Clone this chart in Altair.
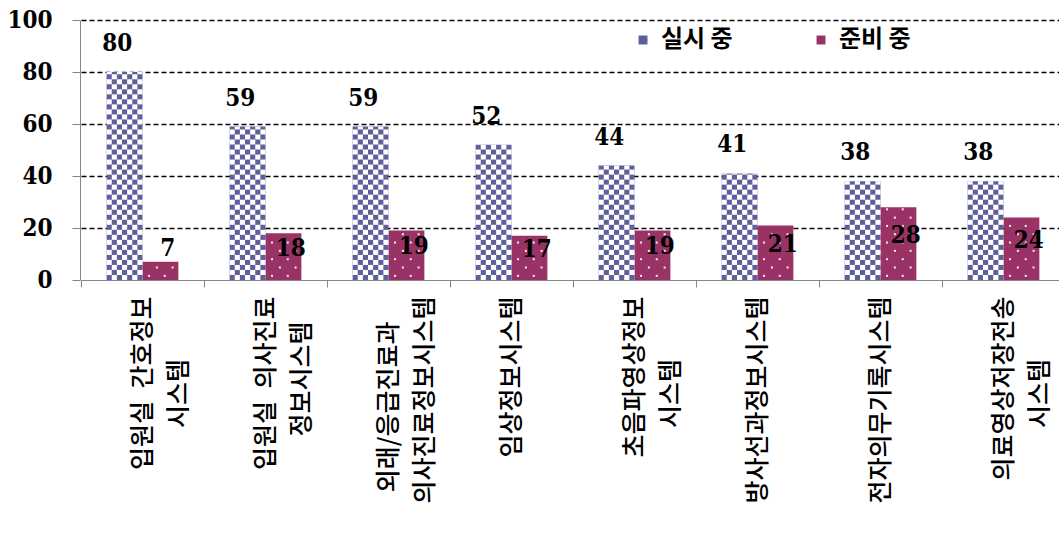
import math
import altair as alt
import pandas as pd

# ---- data ----
ZW = "\u200b"
categories = [
    "입원실\u2002간호정보\n시스템\u3000\u3000\u2002" + ZW,
    "입원실\u2002의사진료\n정보시스템\u3000" + ZW,
    "외래/응급진료과\u3000" + ZW + "\n의사진료정보시스템",
    "임상정보시스템",
    "초음파영상정보\n시스템\u3000\u3000\u2002" + ZW,
    "방사선과정보시스템",
    "전자의무기록시스템",
    "의료영상저장전송\n시스템\u3000\u3000\u2002" + ZW,
]
series = ["실시 중", "준비 중"]
active = [80, 59, 59, 52, 44, 41, 38, 38]     # 실시 중
planned = [7, 18, 19, 17, 19, 21, 28, 24]     # 준비 중
colors = ["#5f5f9c", "#993366"]

# ---- tables built from the arrays ----
rows = []
for c, a, p in zip(categories, active, planned):
    rows.append({"cat": c, "series": series[0], "value": a})
    rows.append({"cat": c, "series": series[1], "value": p})
df = pd.DataFrame(rows)

# checkerboard overlay (light squares) for 실시 중 bars
cell_h = 1.93
slots24 = [f"k{j:02d}" for j in range(24)]
cells = []
for c, v in zip(categories, active):
    n = math.ceil(v / cell_h)
    for r in range(n):
        y0 = r * cell_h
        y1 = min((r + 1) * cell_h, v)
        for col in range(7):
            if (r + col) % 2 == 1:
                cells.append({"cat": c, "slot": slots24[5 + col], "y0": y0, "y1": y1})
df_cells = pd.DataFrame(cells)

# dotted pattern for 준비 중 bars
slots48 = [f"d{j:02d}" for j in range(48)]
dots = []
for c, v in zip(categories, planned):
    k = 0
    while (k + 0.5) * 3.2 < v - 0.6:
        yk = (k + 0.5) * 3.2
        for s in ([26, 32] if k % 2 == 0 else [29, 35]):
            dots.append({"cat": c, "slot": slots48[s], "y": yk})
        k += 1
df_dots = pd.DataFrame(dots)

# ---- shared encodings ----
x_axis = alt.Axis(
    title=None, labelAngle=270, labelAlign="right", labelBaseline="middle",
    labelFont="Noto Sans CJK KR", labelFontSize=25, labelFontWeight=500, labelLineHeight=36,
    labelColor="black", labelPadding=9, labelLimit=400, labelOverlap=False,
    labelExpr="split(datum.label, '\\n')", bandPosition=0,
    ticks=True, tickSize=7, tickColor="#868686", domainColor="#868686",
    domainWidth=1, grid=False,
)
X = alt.X("cat:N", sort=categories,
          scale=alt.Scale(domain=categories, range=[1, 985], paddingInner=0, paddingOuter=0),
          axis=x_axis)

y_axis = alt.Axis(
    title=None, values=[0, 20, 40, 60, 80, 100], grid=True,
    gridColor={"condition": {"test": "datum.value === 0", "value": "transparent"}, "value": "black"},
    gridDash=[5, 3], gridWidth=1.3,
    tickColor="#868686", tickSize=8, domainColor="#868686",
    labelFont="DejaVu Serif Condensed", labelFontWeight="bold", labelFontSize=24,
    labelColor="black", labelPadding=20,
)
yscale = alt.Scale(domain=[0, 100], nice=False)

xoff_series = alt.XOffset("series:N", scale=alt.Scale(domain=series, paddingInner=0, paddingOuter=5 / 7))

bars = alt.Chart(df).mark_bar().encode(
    x=X,
    xOffset=xoff_series,
    y=alt.Y("value:Q", scale=yscale, axis=y_axis, title=None),
    color=alt.Color(
        "series:N",
        scale=alt.Scale(domain=series, range=colors),
        legend=alt.Legend(
            orient="none", legendX=551, legendY=8, direction="horizontal", title=None,
            symbolType="square", symbolSize=80, symbolStrokeWidth=0,
            labelFont="Noto Sans CJK KR", labelFontSize=24, labelFontWeight="bold",
            labelColor="black", labelOffset=6, columnPadding=76, padding=0,
        ),
    ),
)

checker = alt.Chart(df_cells).mark_bar(color="white").encode(
    x=X,
    xOffset=alt.XOffset("slot:N", scale=alt.Scale(domain=slots24, paddingInner=0, paddingOuter=0)),
    y=alt.Y("y0:Q", scale=yscale, axis=y_axis, title=None),
    y2="y1:Q",
)

dotted = alt.Chart(df_dots).mark_square(size=4, color="white", opacity=0.9, filled=True).encode(
    x=X,
    xOffset=alt.XOffset("slot:N", scale=alt.Scale(domain=slots48, paddingInner=0, paddingOuter=0)),
    y=alt.Y("y:Q", scale=yscale, axis=y_axis, title=None),
)

text_active = alt.Chart(df).transform_filter(
    alt.datum.series == series[0]
).mark_text(font="DejaVu Serif Condensed", fontSize=24, fontWeight="bold", baseline="alphabetic",
            dy=-21, color="black").encode(
    x=X,
    xOffset=xoff_series,
    y=alt.Y("value:Q", scale=yscale, axis=y_axis, title=None),
    text="value:Q",
)

text_planned = alt.Chart(df).transform_filter(
    alt.datum.series == series[1]
).transform_calculate(
    ly="datum.value >= 10 ? datum.value / 2 : datum.value + 2"
).mark_text(font="DejaVu Serif Condensed", fontSize=24, fontWeight="bold", baseline="middle",
            dy=-8, color="black").encode(
    x=X,
    xOffset=xoff_series,
    y=alt.Y("ly:Q", scale=yscale, axis=y_axis, title=None),
    text="value:Q",
)

chart = alt.layer(bars, checker, dotted, text_active, text_planned).resolve_scale(
    xOffset="independent"
).properties(
    width=979, height=260,
    padding={"left": 80, "top": 20, "right": 0, "bottom": 256},
    autosize=alt.AutoSizeParams(type="none"),
    background="white",
).configure_view(stroke=None)

chart.save("out.html", embed_options={"renderer": "svg", "actions": False})
